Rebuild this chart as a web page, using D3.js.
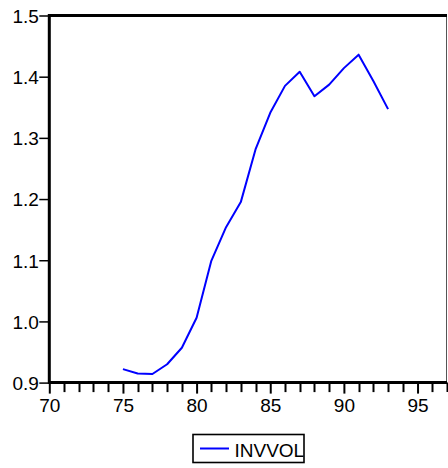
<!DOCTYPE html>
<html>
<head>
<meta charset="utf-8">
<script src="https://cdn.jsdelivr.net/npm/d3@7"></script>
<style>
  html, body { margin: 0; padding: 0; background: #fff; }
  svg { display: block; }
  text { font-family: "Liberation Sans", Arial, sans-serif; fill: #000; }
</style>
</head>
<body>
<svg id="chart" width="448" height="468"></svg>
<script>
// Annual series (years 1975-1993)
const years = [75, 76, 77, 78, 79, 80, 81, 82, 83, 84, 85, 86, 87, 88, 89, 90, 91, 92, 93];
const invvol = [0.922, 0.915, 0.914, 0.930, 0.957, 1.006, 1.099, 1.154, 1.195, 1.281,
                1.341, 1.385, 1.408, 1.368, 1.387, 1.414, 1.436, 1.393, 1.347];
const seriesName = "INVVOL";
const xMajorTicks = [70, 75, 80, 85, 90, 95];
const xMinorTicks = d3.range(70, 98);
const yTicks = [0.9, 1.0, 1.1, 1.2, 1.3, 1.4, 1.5];

const fontSize = 19;
const svg = d3.select("#chart");
const plotLeft = 49.3, plotRight = 447, plotTop = 15.5, plotBottom = 382.6;

const x = d3.scaleLinear().domain([70, 97]).range([plotLeft, plotRight]);
const y = d3.scaleLinear().domain([0.9, 1.5]).range([plotBottom, plotTop]);

// thin frame on the right side
svg.append("line")
  .attr("x1", plotRight - 0.5).attr("x2", plotRight - 0.5)
  .attr("y1", plotTop).attr("y2", plotBottom)
  .attr("stroke", "#555").attr("stroke-width", 1);

// minor x ticks
svg.append("g").selectAll("line").data(xMinorTicks.filter(d => !xMajorTicks.includes(d)))
  .join("line")
  .attr("x1", d => Math.round(x(d)) + 0.5).attr("x2", d => Math.round(x(d)) + 0.5)
  .attr("y1", plotBottom).attr("y2", plotBottom + 9.5)
  .attr("stroke", "#000").attr("stroke-width", 2);

// major x axis
const xAxis = d3.axisBottom(x).tickValues(xMajorTicks).tickFormat(d3.format("d"))
  .tickSize(11).tickPadding(5);
const gx = svg.append("g").attr("transform", `translate(0,${plotBottom})`).call(xAxis);
gx.select(".domain").remove();
gx.selectAll(".tick line").attr("stroke", "#000").attr("stroke-width", 2);
gx.selectAll(".tick text").attr("font-size", fontSize).attr("dy", "0.71em")
  .style("font-family", "'Liberation Sans', Arial, sans-serif");

// y axis
const yAxis = d3.axisLeft(y).tickValues(yTicks).tickFormat(d3.format(".1f"))
  .tickSize(10).tickPadding(0.5);
const gy = svg.append("g").attr("transform", `translate(${plotLeft},0)`).call(yAxis);
gy.select(".domain").remove();
gy.selectAll(".tick line").attr("stroke", "#000").attr("stroke-width", 1.5);
gy.selectAll(".tick text").attr("font-size", fontSize).attr("dy", "0.36em")
  .style("font-family", "'Liberation Sans', Arial, sans-serif");

// heavy frame: left, top, bottom
svg.append("path")
  .attr("d", `M${plotRight},${plotTop}H${plotLeft}V${plotBottom}H${plotRight}`)
  .attr("fill", "none").attr("stroke", "#000").attr("stroke-width", 3);

// series line
const line = d3.line().x((d, i) => x(years[i])).y(d => y(d));
svg.append("path")
  .datum(invvol)
  .attr("d", line)
  .attr("fill", "none")
  .attr("stroke", "#0000ff")
  .attr("stroke-width", 2)
  .attr("stroke-linejoin", "round");

// legend
const lg = svg.append("g");
lg.append("rect")
  .attr("x", 193).attr("y", 434.5).attr("width", 111).attr("height", 28)
  .attr("fill", "#fff").attr("stroke", "#000").attr("stroke-width", 1.6);
lg.append("line")
  .attr("x1", 200).attr("x2", 229).attr("y1", 448.5).attr("y2", 448.5)
  .attr("stroke", "#0000ff").attr("stroke-width", 2);
lg.append("text")
  .attr("x", 234.5).attr("y", 456.5)
  .attr("font-size", fontSize)
  .text(seriesName);
</script>
</body>
</html>
